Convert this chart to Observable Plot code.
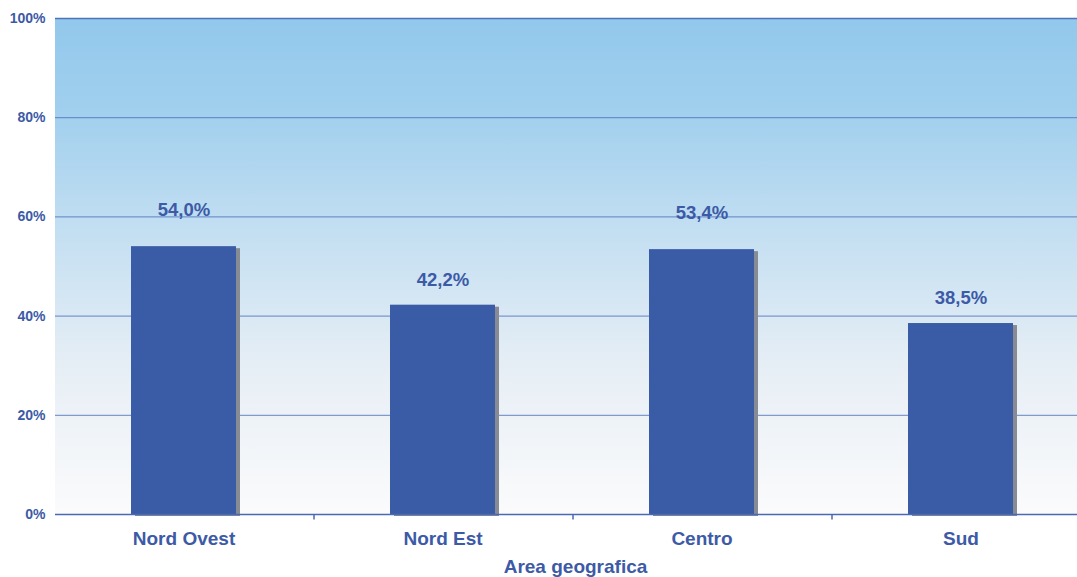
<!DOCTYPE html>
<html>
<head>
<meta charset="utf-8">
<script src="https://cdn.jsdelivr.net/npm/d3@7"></script>
<script src="https://cdn.jsdelivr.net/npm/@observablehq/plot@0.6"></script>
<style>
  html, body { margin: 0; padding: 0; background: #fff; overflow: hidden; }
  #chart svg { overflow: hidden; }
</style>
</head>
<body>
<div id="chart"></div>
<script>
const categories = ["Nord Ovest", "Nord Est", "Centro", "Sud"];
const values = [54.0, 42.2, 53.4, 38.5];
const yTicks = [0, 20, 40, 60, 80, 100];
const xTitle = "Area geografica";

const data = categories.map((c, i) => ({ area: c, value: values[i] }));
const blue = "#3a5ba5";
const textBlue = "#3c5aa6";
const font = "'Liberation Sans', Arial, sans-serif";
const highLabel = new Set(["Nord Ovest", "Centro"]);

const gradientBg = (index, scales, values, dims) => {
  const ns = "http://www.w3.org/2000/svg";
  const g = document.createElementNS(ns, "g");
  const defs = document.createElementNS(ns, "defs");
  const lg = document.createElementNS(ns, "linearGradient");
  lg.setAttribute("id", "bggrad");
  lg.setAttribute("x1", "0"); lg.setAttribute("y1", "0");
  lg.setAttribute("x2", "0"); lg.setAttribute("y2", "1");
  [["0%", "#92c8ec"], ["20%", "#a2d0ee"], ["45%", "#c6e0f2"], ["70%", "#e6eef5"], ["100%", "#fbfbfc"]].forEach(([o, c]) => {
    const s = document.createElementNS(ns, "stop");
    s.setAttribute("offset", o); s.setAttribute("stop-color", c);
    lg.appendChild(s);
  });
  defs.appendChild(lg);
  g.appendChild(defs);
  const y0 = scales.y(100), y1 = scales.y(0);
  const r = document.createElementNS(ns, "rect");
  r.setAttribute("x", dims.marginLeft);
  r.setAttribute("y", y0);
  r.setAttribute("width", 1200);
  r.setAttribute("height", y1 - y0);
  r.setAttribute("fill", "url(#bggrad)");
  g.appendChild(r);
  return g;
};

const labelText = d => d.value.toFixed(1).replace(".", ",") + "%";

const chart = Plot.plot({
  width: 1077,
  height: 577,
  marginTop: 18,
  marginBottom: 63,
  marginLeft: 55,
  marginRight: 0,
  style: { fontFamily: font, background: "transparent", overflow: "hidden" },
  x: { domain: categories, range: [53.8, 1091], paddingInner: 0.595, paddingOuter: 0.2975, label: null },
  y: { domain: [0, 100], label: null },
  marks: [
    gradientBg,
    Plot.ruleY(yTicks.filter(t => t > 0 && t < 100), { y: d => d, stroke: "#4e71bd", strokeWidth: 1, strokeOpacity: 0.85 }),
    Plot.ruleY([100], { stroke: "#4f72bb", strokeWidth: 1.6 }),
    Plot.barY(data, { x: "area", y: "value", fill: "#878c94", dx: 4, dy: 2 }),
    Plot.barY(data, { x: "area", y: "value", fill: blue }),
    Plot.ruleY([0], { stroke: "#4a68b4", strokeWidth: 1.5 }),
    Plot.ruleX([0], { x: () => null, frameAnchor: "left", y1: 0, y2: 100, stroke: "#3f5fb0", strokeWidth: 1.5 }),
    Plot.ruleX(categories.slice(0, -1), { x: d => d, dx: 130, y1: 0, y2: -1.1, stroke: "#4a68b4", strokeWidth: 1.5 }),
    Plot.axisY({ ticks: yTicks, tickFormat: d => d + "%", tickSize: 0, tickPadding: 10, fill: textBlue, fontSize: 14, fontWeight: "bold", label: null }),
    Plot.axisX({ ticks: [], tickSize: 0, label: null }),
    Plot.text(data.filter(d => highLabel.has(d.area)), { x: "area", y: "value", text: labelText, dy: -37, fill: textBlue, fontSize: 18.5, fontWeight: "bold" }),
    Plot.text(data.filter(d => !highLabel.has(d.area)), { x: "area", y: "value", text: labelText, dy: -25, fill: textBlue, fontSize: 18.5, fontWeight: "bold" }),
    Plot.text(data, { x: "area", y: 0, text: "area", dy: 24, fill: textBlue, fontSize: 19, fontWeight: "bold" }),
    Plot.text([xTitle], { frameAnchor: "bottom", dx: 9, dy: 58, fill: textBlue, fontSize: 19, fontWeight: "bold" })
  ]
});
document.getElementById("chart").appendChild(chart);
</script>
</body>
</html>
